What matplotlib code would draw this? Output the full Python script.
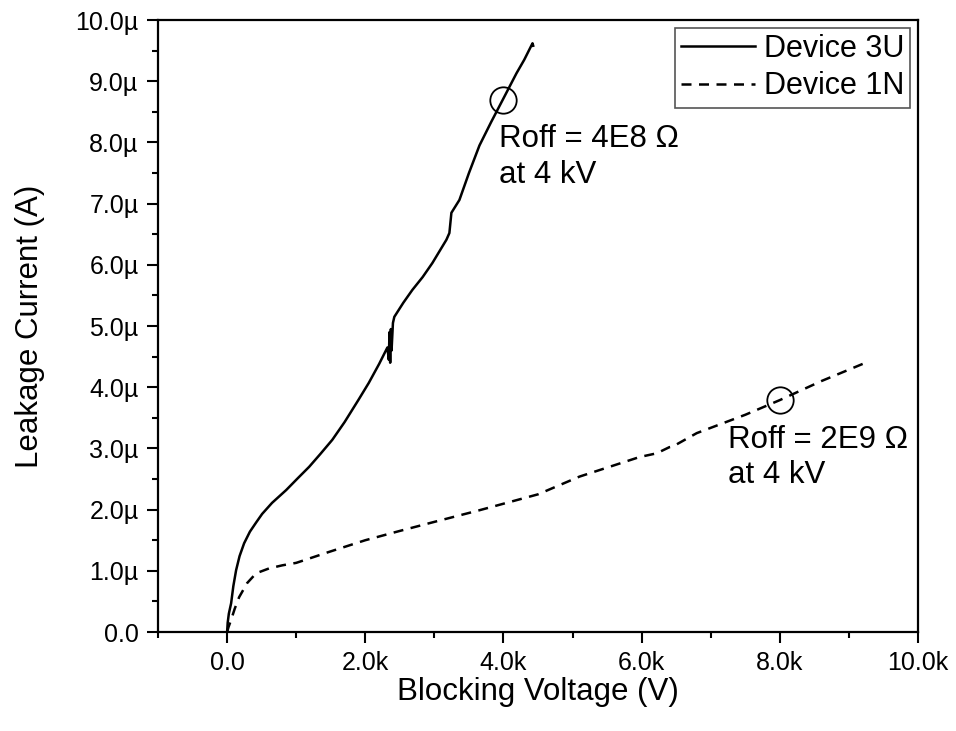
import matplotlib as mpl
mpl.use("Agg")
import matplotlib.pyplot as plt
from matplotlib.ticker import MultipleLocator, FuncFormatter

mpl.rcParams['font.family'] = ['Liberation Sans', 'DejaVu Sans']

# Device 3U (solid): blocking voltage (V), leakage current (uA)
v_3u = [0, 8, 25, 58, 90, 130, 180, 246, 330, 420, 507, 650, 855, 1020,
        1188, 1350, 1522, 1700, 1899, 2050, 2200, 2320,
        2340, 2350, 2360, 2370, 2380, 2400, 2420, 2550, 2681, 2830, 2971,
        3174, 3217, 3246, 3362, 3500, 3652, 3820, 3986, 4188, 4300, 4420, 4430]
i_3u = [0, 0.15, 0.3, 0.47, 0.75, 1.01, 1.24, 1.45, 1.64, 1.79, 1.93, 2.11,
        2.32, 2.51, 2.70, 2.91, 3.14, 3.43, 3.79, 4.07, 4.38, 4.65,
        4.45, 4.9, 4.4, 4.95, 4.6, 5.05, 5.15, 5.38, 5.59, 5.8, 6.03,
        6.41, 6.52, 6.85, 7.06, 7.5, 7.95, 8.33, 8.69, 9.13, 9.35, 9.62, 9.58]

# Device 1N (dashed)
v_1n = [0, 20, 58, 110, 174, 290, 420, 609, 800, 1000, 1478, 2000, 2493, 3000,
        3652, 4500, 5101, 5971, 6217, 6400, 6449, 6797, 7500, 8000, 8600, 9261]
i_1n = [0, 0.08, 0.2, 0.38, 0.57, 0.8, 0.96, 1.04, 1.09, 1.13, 1.31, 1.5,
        1.65, 1.8, 1.99, 2.25, 2.54, 2.86, 2.92, 3.02, 3.03, 3.25, 3.55,
        3.79, 4.1, 4.41]

# marked points (circles) and their notes
mark_v = [4000, 8000]
mark_i = [8.69, 3.79]
notes = ["Roff = 4E8 \u03a9\nat 4 kV", "Roff = 2E9 \u03a9\nat 4 kV"]
note_v = [3940, 7250]
note_i = [7.76, 2.85]

fig = plt.figure(figsize=(9.56, 7.31), dpi=100)
ax = fig.add_axes([0.1653, 0.1354, 0.795, 0.8372])

lw = 1.8
ax.plot(v_3u, [i * 1e-6 for i in i_3u], color='k', linewidth=lw, label='Device 3U')
ax.plot(v_1n, [i * 1e-6 for i in i_1n], color='k', linewidth=lw,
        linestyle=(0, (4, 3)), label='Device 1N')

ax.plot(mark_v, [i * 1e-6 for i in mark_i], linestyle='none', marker='o',
        markersize=19, markerfacecolor='none', markeredgecolor='k',
        markeredgewidth=1.3)

for t, x, y in zip(notes, note_v, note_i):
    ax.text(x, y * 1e-6, t, fontsize=22.5, va='center', ha='left',
            linespacing=1.25)

ax.set_xlim(-1000, 10000)
ax.set_ylim(0, 10e-6)

ax.xaxis.set_major_locator(MultipleLocator(2000))
ax.xaxis.set_minor_locator(MultipleLocator(1000))
ax.yaxis.set_major_locator(MultipleLocator(1e-6))
ax.yaxis.set_minor_locator(MultipleLocator(0.5e-6))

def fmt_x(v, pos):
    if v < -1:
        return ''
    if abs(v) < 1:
        return '0.0'
    return '%.1fk' % (v / 1000)

def fmt_y(v, pos):
    if abs(v) < 1e-9:
        return '0.0'
    return '%.1f\u00b5' % (v * 1e6)

ax.xaxis.set_major_formatter(FuncFormatter(fmt_x))
ax.yaxis.set_major_formatter(FuncFormatter(fmt_y))

ax.tick_params(which='major', direction='out', length=8, width=1.5,
               labelsize=18, pad=6)
ax.tick_params(which='minor', direction='out', length=4, width=1.5)
ax.tick_params(top=False, right=False, which='both')
for s in ax.spines.values():
    s.set_linewidth(1.6)

ax.set_xlabel('Blocking Voltage (V)', fontsize=22.5, labelpad=1)
ax.set_ylabel('Leakage Current (A)', fontsize=22.5, labelpad=22)

leg = ax.legend(loc='upper right', fontsize=22, handlelength=2.4,
                handletextpad=0.3, borderpad=0.2, borderaxespad=0.25,
                labelspacing=0.25, fancybox=False, framealpha=1)
leg.get_frame().set_edgecolor('#555555')
leg.get_frame().set_linewidth(1.2)

fig.savefig('out.png', dpi=100)
